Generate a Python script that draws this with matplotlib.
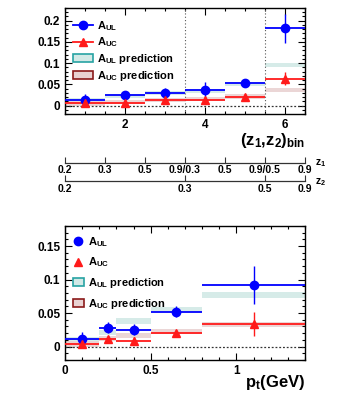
import matplotlib
matplotlib.use("Agg")
import matplotlib.pyplot as plt
import numpy as np
from matplotlib.patches import Patch
from matplotlib.lines import Line2D
from matplotlib.ticker import MultipleLocator

plt.rcParams['font.family'] = ['Liberation Sans', 'DejaVu Sans']
plt.rcParams['font.weight'] = 'bold'
plt.rcParams['mathtext.fontset'] = 'custom'
plt.rcParams['mathtext.rm'] = 'Liberation Sans:bold'
plt.rcParams['mathtext.it'] = 'Liberation Sans:bold'
plt.rcParams['mathtext.bf'] = 'Liberation Sans:bold'

# ---------- data: (z1,z2) bins ----------
z_bin = [1, 2, 3, 4, 5, 6]
z_aul = [0.014, 0.025, 0.029, 0.037, 0.052, 0.182]
z_aul_err = [0.013, 0.005, 0.013, 0.018, 0.009, 0.035]
z_auc = [0.005, 0.006, 0.014, 0.012, 0.021, 0.063]
z_auc_err = [0.006, 0.004, 0.006, 0.007, 0.006, 0.015]
z_aul_pred = [0.012, 0.022, 0.029, 0.035, 0.050, 0.095]
z_auc_pred = [0.005, 0.008, 0.013, 0.015, 0.021, 0.036]
z1_ticklabels = ['0.2', '0.3', '0.5', '0.9/0.3', '0.5', '0.9/0.5', '0.9']
z2_ticklabels = ['0.2', '0.3', '0.5', '0.9']

# ---------- data: pt bins ----------
pt_edges = [0.0, 0.2, 0.3, 0.5, 0.8, 1.4]
pt_center = [0.1, 0.25, 0.4, 0.65, 1.1]
pt_aul = [0.012, 0.028, 0.025, 0.052, 0.092]
pt_aul_err = [0.010, 0.008, 0.008, 0.008, 0.029]
pt_auc = [0.004, 0.011, 0.009, 0.021, 0.034]
pt_auc_err = [0.006, 0.004, 0.005, 0.004, 0.018]
pt_aul_pred = [0.010, 0.021, 0.038, 0.055, 0.077]
pt_auc_pred = [0.004, 0.012, 0.017, 0.023, 0.033]

BLUE = '#0000ff'
RED = '#ff1a1a'
TEAL_F = '#d2e9e6'
TEAL_E = '#27a3a3'
PINK_F = '#e9d2d2'
PINK_E = '#8b1a1a'

W, H = 338, 396
fig = plt.figure(figsize=(W / 100, H / 100), dpi=100)


def frac(x0, y0, x1, y1):
    return [x0 / W, 1 - y1 / H, (x1 - x0) / W, (y1 - y0) / H]


def style(ax):
    ax.tick_params(which='both', direction='in', top=True, right=True,
                   labelsize=8.5, width=0.8)
    ax.tick_params(which='major', length=5)
    ax.tick_params(which='minor', length=2.5)
    for s in ax.spines.values():
        s.set_linewidth(1.0)
    for lab in ax.get_xticklabels() + ax.get_yticklabels():
        lab.set_fontweight('bold')


def draw(ax, centers, lo, hi, aul, aul_err, auc, auc_err, aul_pred, auc_pred, pw):
    centers = np.asarray(centers, float)
    lo = np.asarray(lo, float)
    hi = np.asarray(hi, float)
    widths = hi - lo
    mids = (lo + hi) / 2
    ax.bar(mids, 2 * pw, bottom=np.asarray(aul_pred) - pw, width=widths,
           color=TEAL_F, alpha=0.9, linewidth=0, zorder=1)
    ax.bar(mids, 2 * pw, bottom=np.asarray(auc_pred) - pw, width=widths,
           color=PINK_F, alpha=0.9, linewidth=0, zorder=1)
    ax.hlines(aul, lo, hi, color=BLUE, lw=1.3, zorder=3)
    ax.hlines(auc, lo, hi, color=RED, lw=1.3, zorder=3)
    ax.errorbar(centers, aul, yerr=aul_err, fmt='o', color=BLUE, ms=6,
                elinewidth=1.0, capsize=0, zorder=4)
    ax.errorbar(centers, auc, yerr=auc_err, fmt='^', color=RED, ms=6,
                elinewidth=1.0, capsize=0, zorder=4)
    ax.axhline(0, color='#333333', ls=(0, (1.5, 1.5)), lw=0.9, zorder=2)


# ---------- top panel ----------
ax1 = fig.add_axes(frac(65, 8, 305, 114))
zc = np.asarray(z_bin, float)
draw(ax1, zc, zc - 0.5, zc + 0.5, z_aul, z_aul_err, z_auc, z_auc_err,
     z_aul_pred, z_auc_pred, 0.005)
ax1.axvline(3.5, color='#555555', ls=(0, (1, 2)), lw=0.8)
ax1.axvline(5.5, color='#555555', ls=(0, (1, 2)), lw=0.8)
ax1.set_xlim(0.5, 6.5)
ax1.set_ylim(-0.02, 0.23)
ax1.set_xticks([2, 4, 6])
ax1.xaxis.set_minor_locator(MultipleLocator(0.5))
ax1.set_yticks([0, 0.05, 0.1, 0.15, 0.2])
ax1.set_yticklabels(['0', '0.05', '0.1', '0.15', '0.2'])
ax1.yaxis.set_minor_locator(MultipleLocator(0.01))
style(ax1)

h_top = [Line2D([], [], color=BLUE, marker='o', ms=6, lw=1.3),
         Line2D([], [], color=RED, marker='^', ms=6, lw=1.3),
         Patch(facecolor=TEAL_F, edgecolor=TEAL_E, lw=1.2),
         Patch(facecolor=PINK_F, edgecolor=PINK_E, lw=1.2)]
labels = [r'A$_{\rm UL}$', r'A$_{\rm UC}$', r'A$_{\rm UL}$ prediction',
          r'A$_{\rm UC}$ prediction']
leg1 = ax1.legend(h_top, labels, loc='upper left', bbox_to_anchor=(0.0, 0.97),
                  frameon=False, fontsize=8, handlelength=1.8, handletextpad=0.4,
                  labelspacing=0.25, borderaxespad=0.3)
for t in leg1.get_texts():
    t.set_fontweight('bold')

fig.text(305 / W, 1 - 140 / H, r'(z$_{\rm 1}$,z$_{\rm 2}$)$_{\rm bin}$',
         ha='right', va='center', fontsize=12, fontweight='bold')

# ---------- secondary z axes ----------
for ypix, pos, labs, name in [(162.5, [0.5, 1.5, 2.5, 3.5, 4.5, 5.5, 6.5], z1_ticklabels, r'z$_{\rm 1}$'),
                              (181.5, [0.5, 3.5, 5.5, 6.5], z2_ticklabels, r'z$_{\rm 2}$')]:
    axz = fig.add_axes([65 / W, 1 - ypix / H, 240 / W, 0.0001])
    axz.set_xlim(0.5, 6.5)
    axz.set_yticks([])
    for s in ['top', 'left', 'right']:
        axz.spines[s].set_visible(False)
    axz.spines['bottom'].set_linewidth(0.9)
    axz.spines['bottom'].set_color('#333333')
    axz.set_xticks(pos)
    axz.set_xticklabels(labs)
    axz.tick_params(axis='x', direction='in', length=4, width=0.8, pad=1.5,
                    labelsize=7.5, color='#333333')
    for lab in axz.get_xticklabels():
        lab.set_fontweight('bold')
    axz.patch.set_visible(False)
    fig.text(315 / W, 1 - (ypix + 1) / H, name, ha='left', va='center',
             fontsize=7.5, fontweight='bold')

# ---------- bottom panel ----------
ax2 = fig.add_axes(frac(65, 226, 305, 360))
pe = np.asarray(pt_edges, float)
draw(ax2, pt_center, pe[:-1], pe[1:], pt_aul, pt_aul_err, pt_auc, pt_auc_err,
     pt_aul_pred, pt_auc_pred, 0.004)
ax2.set_xlim(0, 1.4)
ax2.set_ylim(-0.02, 0.18)
ax2.set_xticks([0, 0.5, 1])
ax2.set_xticklabels(['0', '0.5', '1'])
ax2.xaxis.set_minor_locator(MultipleLocator(0.1))
ax2.set_yticks([0, 0.05, 0.1, 0.15])
ax2.set_yticklabels(['0', '0.05', '0.1', '0.15'])
ax2.yaxis.set_minor_locator(MultipleLocator(0.01))
style(ax2)

h_bot = [Line2D([], [], color=BLUE, marker='o', ms=6, lw=0),
         Line2D([], [], color=RED, marker='^', ms=6, lw=0),
         Patch(facecolor=TEAL_F, edgecolor=TEAL_E, lw=1.2),
         Patch(facecolor=PINK_F, edgecolor=PINK_E, lw=1.2)]
leg2 = ax2.legend(h_bot, labels, loc='upper left', bbox_to_anchor=(0.0, 0.99),
                  frameon=False, fontsize=8, handlelength=1.0, handletextpad=0.4,
                  labelspacing=0.6, borderaxespad=0.3)
for t in leg2.get_texts():
    t.set_fontweight('bold')

fig.text(305 / W, 1 - 383 / H, r'p$_{\rm t}$(GeV)', ha='right', va='center',
         fontsize=12, fontweight='bold')

fig.savefig('out.png', dpi=100)
